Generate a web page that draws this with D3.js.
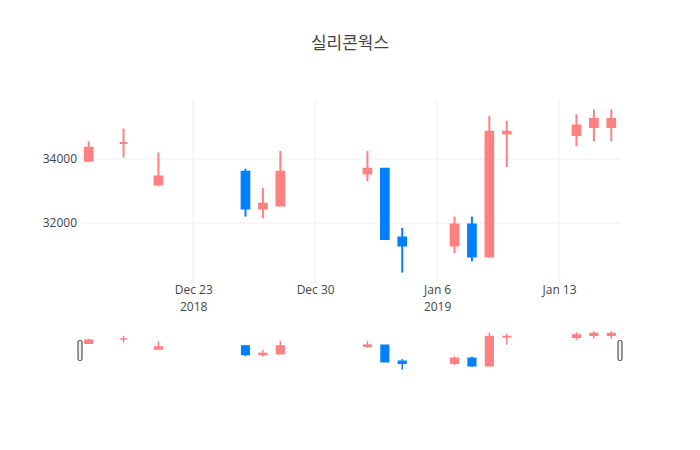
<!DOCTYPE html>
<html>
<head>
  <meta charset="utf-8">
  <title>실리콘웍스</title>
  <style>
    body {
      margin: 0;
      padding: 0;
      background-color: #fff;
    }

    svg {
      display: block;
    }

    text {
      font-family: "Open Sans", "Noto Sans CJK KR", sans-serif;
      fill: #444;
    }

    .grid line {
      stroke: #eee;
      stroke-width: 1px;
    }
  </style>
</head>
<body>
  <div id="container"></div>

  <script src="https://cdn.jsdelivr.net/npm/d3@7"></script>
  <script>
    // Daily prices
    const dates = ["2018-12-17", "2018-12-19", "2018-12-21", "2018-12-26", "2018-12-27", "2018-12-28",
                   "2019-01-02", "2019-01-03", "2019-01-04", "2019-01-07", "2019-01-08", "2019-01-09",
                   "2019-01-10", "2019-01-14", "2019-01-15", "2019-01-16"];
    const opens  = [33950, 34500, 33200, 33600, 32450, 32550, 33550, 33700, 31550, 31300, 31950, 30950, 34800, 34750, 35000, 35000];
    const highs  = [34550, 34950, 34200, 33700, 33100, 34250, 34250, 33700, 31850, 32200, 32200, 35350, 35200, 35400, 35550, 35550];
    const lows   = [33950, 34050, 33150, 32200, 32150, 32550, 33300, 31500, 30450, 31050, 30800, 30950, 33750, 34400, 34550, 34550];
    const closes = [34350, 34500, 33450, 32450, 32600, 33600, 33700, 31500, 31300, 31950, 30950, 34850, 34850, 35050, 35250, 35250];

    // Axis ticks
    const yTicks = [32000, 34000];
    const xTickDates = ["2018-12-23", "2018-12-30", "2019-01-06", "2019-01-13"];
    const xTickLabels = ["Dec 23", "Dec 30", "Jan 6", "Jan 13"];
    const xTickYears = ["2018", "", "2019", ""];

    const title = "실리콘웍스";
    const upColor = "#ff8080";
    const downColor = "#0080ff";

    const width = 700;
    const height = 450;
    const plot = { left: 80, right: 620, top: 100, bottom: 283 };
    const slider = { top: 329, bottom: 372 };

    const parse = d3.utcParse("%Y-%m-%d");
    const day = 24 * 3600 * 1000;

    const candles = dates.map((d, i) => ({
      date: parse(d),
      open: opens[i],
      high: highs[i],
      low: lows[i],
      close: closes[i]
    }));

    const x = d3.scaleUtc()
      .domain([new Date(+candles[0].date - day / 2), new Date(+candles[candles.length - 1].date + day / 2)])
      .range([plot.left, plot.right]);

    const y = d3.scaleLinear()
      .domain([30125, 35845])
      .range([plot.bottom, plot.top]);

    const ySlider = y.copy().range([slider.bottom, slider.top]);

    const svg = d3.select("#container")
      .append("svg")
      .attr("width", width)
      .attr("height", height);

    // Title
    svg.append("text")
      .attr("x", width / 2)
      .attr("y", 49)
      .attr("text-anchor", "middle")
      .attr("font-size", 17)
      .text(title);

    // Grid lines
    const grid = svg.append("g").attr("class", "grid");

    grid.selectAll(".vg")
      .data(xTickDates)
      .join("line")
      .attr("x1", d => x(parse(d)))
      .attr("x2", d => x(parse(d)))
      .attr("y1", plot.top)
      .attr("y2", plot.bottom);

    grid.selectAll(".hg")
      .data(yTicks)
      .join("line")
      .attr("x1", plot.left)
      .attr("x2", plot.right)
      .attr("y1", d => y(d))
      .attr("y2", d => y(d));

    // Y axis labels
    const yAxis = d3.axisLeft(y).tickValues(yTicks).tickSize(0).tickPadding(3).tickFormat(d3.format("d"));
    svg.append("g")
      .attr("transform", `translate(${plot.left},0)`)
      .call(yAxis)
      .call(g => g.select(".domain").remove())
      .call(g => g.selectAll("text").attr("font-size", 12).attr("fill", "#444")
        .style("font-family", '"Open Sans", sans-serif'));

    // X axis labels, with the year under the first tick of each year
    const xAxis = d3.axisBottom(x).tickValues(xTickDates.map(parse)).tickSize(0).tickPadding(2)
      .tickFormat((d, i) => xTickLabels[i]);
    const xg = svg.append("g")
      .attr("transform", `translate(0,${plot.bottom})`)
      .call(xAxis)
      .call(g => g.select(".domain").remove());
    xg.selectAll("text").attr("font-size", 12).attr("fill", "#444")
      .style("font-family", '"Open Sans", sans-serif');
    xg.selectAll(".tick")
      .append("text")
      .attr("y", 19)
      .attr("dy", "0.71em")
      .attr("text-anchor", "middle")
      .attr("font-size", 12)
      .attr("fill", "#444")
      .style("font-family", '"Open Sans", sans-serif')
      .text((d, i) => xTickYears[i]);

    // Candles (body drawn as a closed path so a flat body still shows as a bar)
    function drawCandles(g, yScale, wickWidth, bodyStroke, half) {
      const colorOf = d => d.close >= d.open ? upColor : downColor;

      g.selectAll(".wick")
        .data(candles)
        .join("line")
        .attr("x1", d => x(d.date))
        .attr("x2", d => x(d.date))
        .attr("y1", d => yScale(d.high))
        .attr("y2", d => yScale(d.low))
        .attr("stroke", colorOf)
        .attr("stroke-width", wickWidth);

      g.selectAll(".body")
        .data(candles)
        .join("path")
        .attr("d", d => {
          const x0 = x(new Date(+d.date - day * half));
          const x1 = x(new Date(+d.date + day * half));
          const y0 = yScale(d.open);
          const y1 = yScale(d.close);
          return `M${x0},${y0}H${x1}V${y1}H${x0}Z`;
        })
        .attr("fill", colorOf)
        .attr("stroke", colorOf)
        .attr("stroke-width", bodyStroke);
    }

    drawCandles(svg.append("g"), y, 2, 2, 0.22);

    // Range slider
    const sliderG = svg.append("g");
    sliderG.append("rect")
      .attr("x", plot.left)
      .attr("y", slider.top)
      .attr("width", plot.right - plot.left)
      .attr("height", slider.bottom - slider.top)
      .attr("fill", "#fff");

    drawCandles(sliderG, ySlider, 1.5, 1.5, 0.22);

    const mid = (slider.top + slider.bottom) / 2;
    sliderG.selectAll(".grabber")
      .data([plot.left, plot.right])
      .join("rect")
      .attr("x", d => d - 2)
      .attr("y", mid - 10)
      .attr("width", 4)
      .attr("height", 20)
      .attr("rx", 1.5)
      .attr("fill", "#f2f2f2")
      .attr("stroke", "#333")
      .attr("stroke-width", 1);
  </script>
</body>
</html>
